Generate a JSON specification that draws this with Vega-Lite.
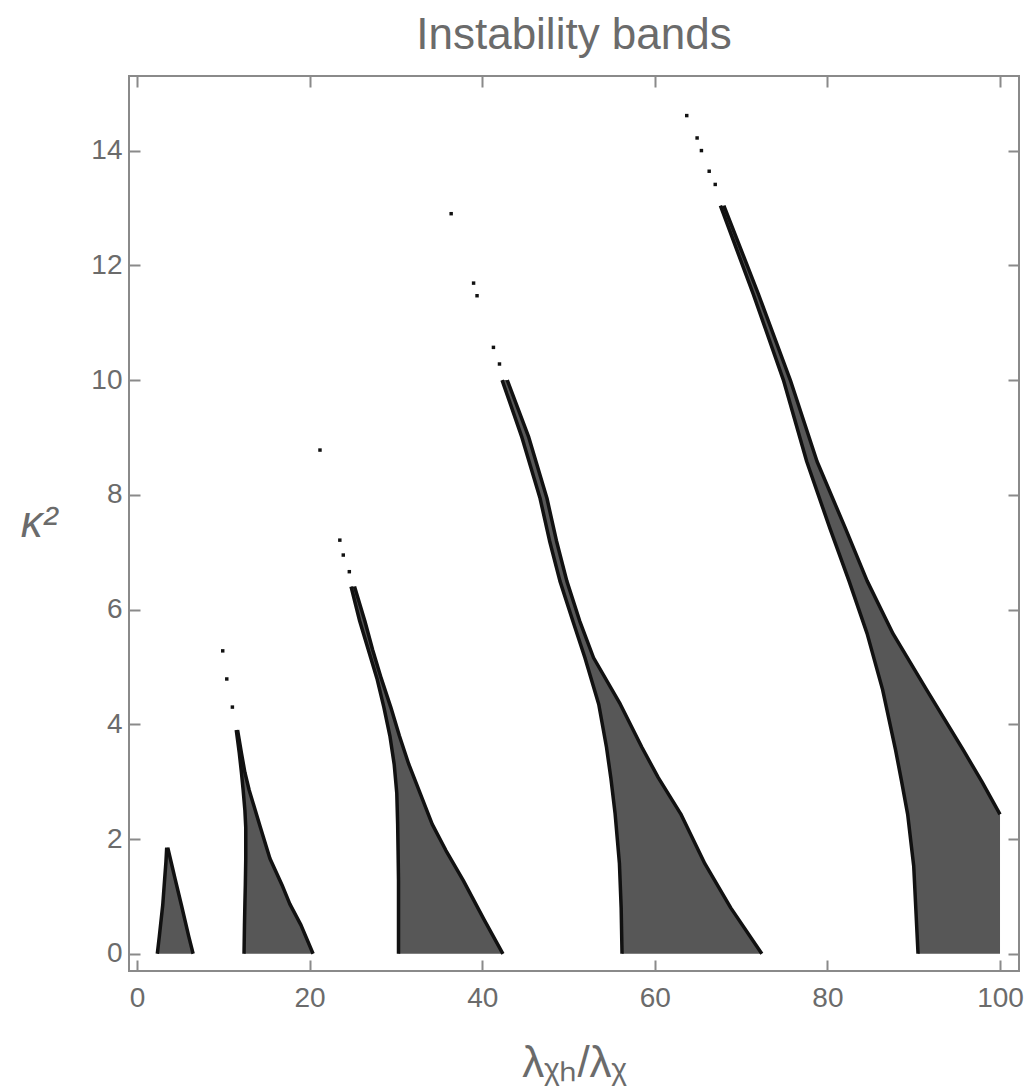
{
  "$schema": "https://vega.github.io/schema/vega-lite/v6.json",
  "width": 890,
  "height": 895,
  "autosize": "none",
  "padding": {"left": 129, "top": 76, "right": 17, "bottom": 121},
  "background": "white",
  "config": {"view": {"stroke": "#8a8a8a", "strokeWidth": 2}, "font": "Liberation Sans", "axis": {"ticks": false, "tickSize": 0, "domain": false, "grid": true, "gridColor": "#8a8a8a", "gridWidth": 2, "gridOpacity": 1}},
  "title": {"text": "Instability bands", "fontSize": 44, "font": "Liberation Sans", "fontWeight": "normal", "color": "#6b6b6b", "offset": 18},
  "datasets": {
    "bands": [
      {"band": 1, "k": 0, "left": 2.35, "right": 6.5},
      {"band": 1, "k": 0.3, "left": 2.58, "right": 6.0},
      {"band": 1, "k": 0.85, "left": 2.98, "right": 5.14},
      {"band": 1, "k": 1.3, "left": 3.2, "right": 4.42},
      {"band": 1, "k": 1.6, "left": 3.35, "right": 3.95},
      {"band": 1, "k": 1.85, "left": 3.44, "right": 3.56},
      {"band": 2, "k": 0, "left": 12.4, "right": 20.4},
      {"band": 2, "k": 0.5, "left": 12.45, "right": 19.0},
      {"band": 2, "k": 0.87, "left": 12.5, "right": 17.7},
      {"band": 2, "k": 1.2, "left": 12.55, "right": 16.8},
      {"band": 2, "k": 1.66, "left": 12.6, "right": 15.4},
      {"band": 2, "k": 2.2, "left": 12.6, "right": 14.3},
      {"band": 2, "k": 2.5, "left": 12.5, "right": 13.7},
      {"band": 2, "k": 2.85, "left": 12.3, "right": 13.0},
      {"band": 2, "k": 3.16, "left": 12.1, "right": 12.5},
      {"band": 2, "k": 3.5, "left": 11.85, "right": 12.1},
      {"band": 2, "k": 3.9, "left": 11.5, "right": 11.65},
      {"band": 3, "k": 0, "left": 30.3, "right": 42.4},
      {"band": 3, "k": 0.6, "left": 30.3, "right": 40.2},
      {"band": 3, "k": 1.28, "left": 30.3, "right": 37.8},
      {"band": 3, "k": 1.8, "left": 30.25, "right": 35.8},
      {"band": 3, "k": 2.26, "left": 30.2, "right": 34.2},
      {"band": 3, "k": 2.8, "left": 30.1, "right": 32.8},
      {"band": 3, "k": 3.3, "left": 29.8, "right": 31.5},
      {"band": 3, "k": 3.8, "left": 29.3, "right": 30.4},
      {"band": 3, "k": 4.3, "left": 28.6, "right": 29.4},
      {"band": 3, "k": 4.8, "left": 27.8, "right": 28.3},
      {"band": 3, "k": 5.3, "left": 26.8, "right": 27.3},
      {"band": 3, "k": 5.8, "left": 25.8, "right": 26.4},
      {"band": 3, "k": 6.4, "left": 24.8, "right": 25.2},
      {"band": 4, "k": 0, "left": 56.2, "right": 72.4},
      {"band": 4, "k": 0.8, "left": 56.1, "right": 68.8},
      {"band": 4, "k": 1.57, "left": 55.9, "right": 65.8},
      {"band": 4, "k": 2.44, "left": 55.4, "right": 63.0},
      {"band": 4, "k": 3.07, "left": 54.9, "right": 60.4},
      {"band": 4, "k": 3.6, "left": 54.4, "right": 58.5},
      {"band": 4, "k": 4.35, "left": 53.5, "right": 56.0},
      {"band": 4, "k": 5.16, "left": 51.9, "right": 52.9},
      {"band": 4, "k": 5.8, "left": 50.5, "right": 51.3},
      {"band": 4, "k": 6.5, "left": 49.0, "right": 49.8},
      {"band": 4, "k": 7.2, "left": 47.8, "right": 48.6},
      {"band": 4, "k": 7.94, "left": 46.7, "right": 47.5},
      {"band": 4, "k": 9.0, "left": 44.6, "right": 45.4},
      {"band": 4, "k": 10.0, "left": 42.3, "right": 42.9},
      {"band": 5, "k": 0, "left": 90.5, "right": 100},
      {"band": 5, "k": 1.53, "left": 90.0, "right": 100},
      {"band": 5, "k": 2.43, "left": 89.3, "right": 100},
      {"band": 5, "k": 3.0, "left": 88.6, "right": 97.9},
      {"band": 5, "k": 3.55, "left": 87.9, "right": 95.75},
      {"band": 5, "k": 4.6, "left": 86.4, "right": 91.5},
      {"band": 5, "k": 5.58, "left": 84.6, "right": 87.6},
      {"band": 5, "k": 6.5, "left": 82.5, "right": 84.6},
      {"band": 5, "k": 7.41, "left": 80.3, "right": 82.1},
      {"band": 5, "k": 8.58, "left": 77.6, "right": 78.8},
      {"band": 5, "k": 10.0, "left": 74.9, "right": 75.7},
      {"band": 5, "k": 11.5, "left": 71.4, "right": 72.0},
      {"band": 5, "k": 13.04, "left": 67.6, "right": 68.0}
    ],
    "dots": [
      {"band": 2, "x": 11.05, "k": 4.3},
      {"band": 2, "x": 10.4, "k": 4.79},
      {"band": 2, "x": 9.93, "k": 5.28},
      {"band": 3, "x": 24.6, "k": 6.66},
      {"band": 3, "x": 23.9, "k": 6.95},
      {"band": 3, "x": 23.5, "k": 7.21},
      {"band": 3, "x": 21.2, "k": 8.78},
      {"band": 4, "x": 42.0, "k": 10.28},
      {"band": 4, "x": 41.3, "k": 10.57},
      {"band": 4, "x": 39.4, "k": 11.47},
      {"band": 4, "x": 39.0, "k": 11.69},
      {"band": 4, "x": 36.4, "k": 12.9},
      {"band": 5, "x": 67.0, "k": 13.41},
      {"band": 5, "x": 66.3, "k": 13.64},
      {"band": 5, "x": 65.4, "k": 14.0},
      {"band": 5, "x": 64.9, "k": 14.22},
      {"band": 5, "x": 63.7, "k": 14.61}
    ]
  },
  "resolve": {"axis": {"x": "independent", "y": "independent"}},
  "layer": [
    {
      "data": {"name": "bands"},
      "mark": {"type": "area", "orient": "horizontal", "color": "#575757", "opacity": 1},
      "encoding": {
        "y": {
          "field": "k", "type": "quantitative",
          "scale": {"domain": [-0.3, 15.3], "nice": false, "zero": false},
          "axis": {
            "orient": "left",
            "values": [0, 2, 4, 6, 8, 10, 12, 14],
            "format": "d",
            "gridDash": [11, 868, 11, 3000],
            "labelFont": "Liberation Sans", "labelFontSize": 28, "labelColor": "#6b6b6b",
            "labelPadding": 7, "labelFlush": false, "labelOverlap": false,
            "title": "κ²", "titleAngle": 0, "titleAlign": "right", "titleBaseline": "middle",
            "titleFont": "Liberation Sans", "titleFontStyle": "italic", "titleFontSize": 44, "titleFontWeight": "normal",
            "titleColor": "#6b6b6b", "titlePadding": 34
          }
        },
        "x": {
          "field": "left", "type": "quantitative",
          "scale": {"domain": [-0.93, 102.2], "nice": false, "zero": false},
          "axis": {
            "orient": "bottom",
            "values": [0, 20, 40, 60, 80, 100],
            "format": "d",
            "gridDash": [11, 873, 11, 3000],
            "labelFont": "Liberation Sans", "labelFontSize": 28, "labelColor": "#6b6b6b",
            "labelPadding": 13, "labelFlush": false, "labelOverlap": false,
            "title": "λᵪₕ/λᵪ", "titleFont": "Liberation Sans", "titleFontSize": 44, "titleFontWeight": "normal",
            "titleColor": "#6b6b6b", "titlePadding": 29
          }
        },
        "x2": {"field": "right"},
        "detail": {"field": "band"}
      }
    },
    {
      "data": {"name": "bands"},
      "transform": [
        {"fold": ["left", "right"], "as": ["side", "xv"]},
        {"filter": "!(datum.band == 5 && datum.side == 'right' && datum.k < 2.4)"}
      ],
      "mark": {"type": "line", "color": "#111111", "strokeWidth": 3.5, "strokeJoin": "round"},
      "encoding": {
        "x": {
          "field": "xv", "type": "quantitative",
          "axis": {
            "orient": "top",
            "values": [5, 10, 15, 25, 30, 35, 45, 50, 55, 65, 70, 75, 85, 90, 95],
            "gridDash": [7, 881, 7, 3000], "labels": false, "title": null
          }
        },
        "y": {
          "field": "k", "type": "quantitative",
          "axis": {
            "orient": "right",
            "values": [0.5, 1, 1.5, 2.5, 3, 3.5, 4.5, 5, 5.5, 6.5, 7, 7.5, 8.5, 9, 9.5, 10.5, 11, 11.5, 12.5, 13, 13.5, 14.5, 15],
            "gridDash": [7, 876, 7, 3000], "labels": false, "title": null
          }
        },
        "detail": [{"field": "band"}, {"field": "side"}],
        "order": {"field": "k"}
      }
    },
    {
      "data": {"name": "dots"},
      "mark": {"type": "square", "color": "#111111", "size": 12, "opacity": 1},
      "encoding": {
        "x": {"field": "x", "type": "quantitative", "axis": null},
        "y": {"field": "k", "type": "quantitative", "axis": null}
      }
    }
  ]
}
